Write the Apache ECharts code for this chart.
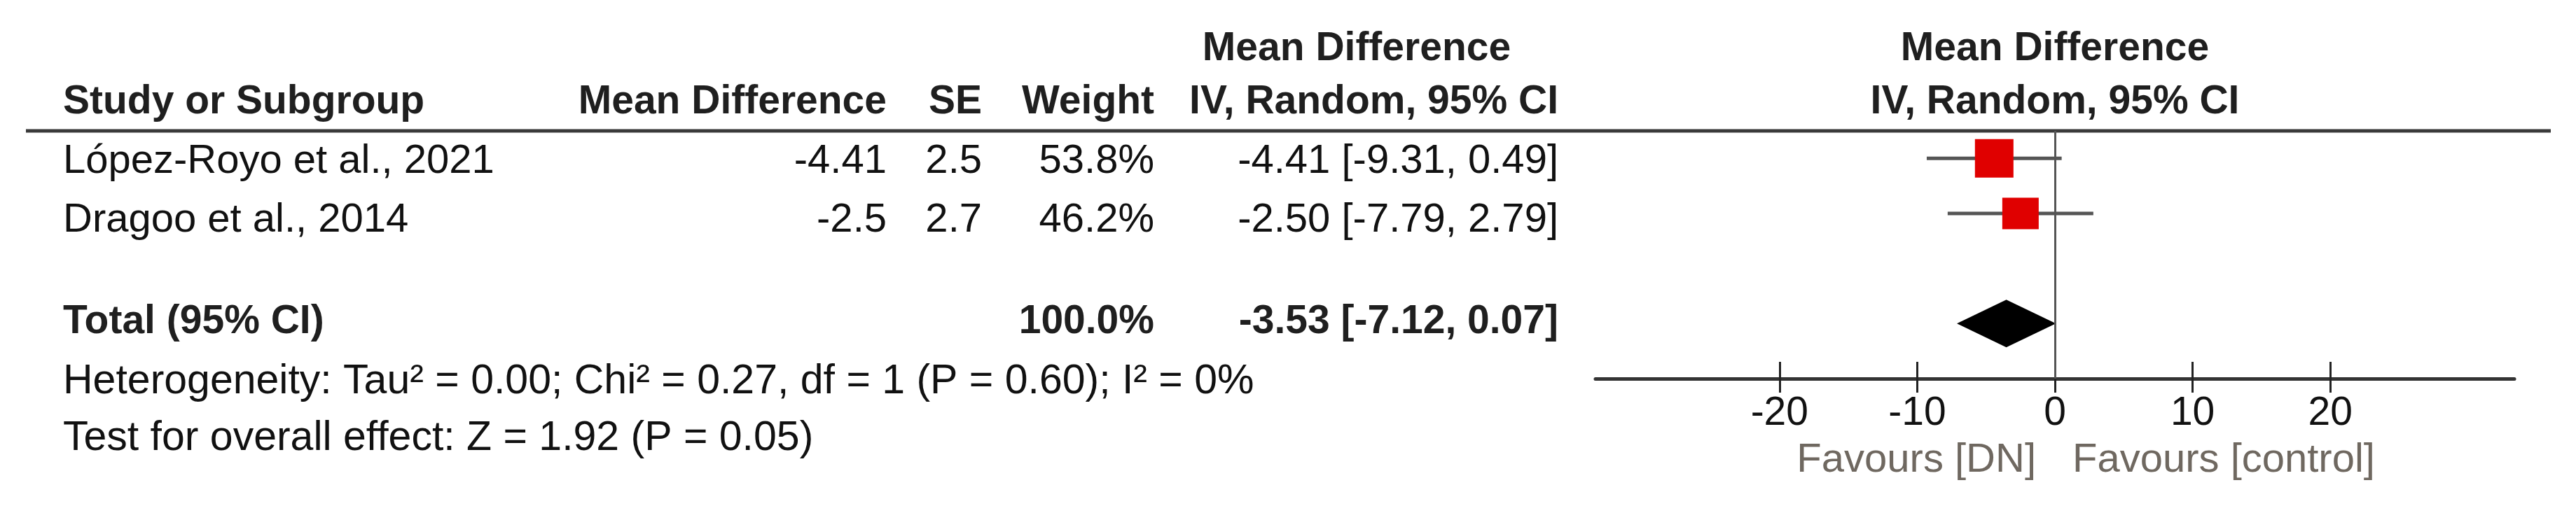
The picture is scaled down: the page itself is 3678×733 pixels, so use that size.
<!DOCTYPE html>
<html>
<head>
<meta charset="utf-8">
<script src="https://cdn.jsdelivr.net/npm/echarts@6/dist/echarts.min.js"></script>
<style>
  html, body { margin: 0; padding: 0; background: #fff; }
  #chart { width: 3678px; height: 733px; }
</style>
</head>
<body>
<div id="chart"></div>
<script>
// study data
const studies = ['López-Royo et al., 2021', 'Dragoo et al., 2014']
const meanDiff = ['-4.41', '-2.5']
const se = ['2.5', '2.7']
const weight = [53.8, 46.2]
const effect = [-4.41, -2.50]
const ciLow = [-9.31, -7.79]
const ciHigh = [0.49, 2.79]
const studyRow = [0, 1]

// pooled result
const totalEffect = [-3.53]
const totalLow = [-7.12]
const totalHigh = [0.07]
const totalWeight = [100.0]
const totalRow = [3]

const xTicks = [-20, -10, 0, 10, 20]
const heterogeneity = 'Heterogeneity: Tau² = 0.00; Chi² = 0.27, df = 1 (P = 0.60); I² = 0%'
const overallTest = 'Test for overall effect: Z = 1.92 (P = 0.05)'

const chart = echarts.init(document.getElementById('chart'))

const FONT = '"Liberation Sans", Arial, sans-serif'
const txt = (text, x, y, align, bold, extra) => ({
  type: 'text',
  x: x,
  y: y,
  silent: true,
  style: Object.assign({
    text: text,
    fill: bold ? '#1f1f1f' : '#111',
    font: (bold ? 'bold 57px ' : '58px ') + FONT,
    textAlign: align,
    textVerticalAlign: 'middle',
  }, extra || {}),
})

const fmtCI = (m, l, h) => m.toFixed(2) + ' [' + l.toFixed(2) + ', ' + h.toFixed(2) + ']'

// table columns (pixel layout)
const colName = 90
const colMD = 1266
const colSE = 1402
const colW = 1648
const colCI = 2225
const colPlot = 2934
const rowTextY = [231, 315]

const graphics = [
  // header
  txt('Mean Difference', 1937, 70, 'center', true),
  txt('Mean Difference', colPlot, 70, 'center', true),
  txt('Study or Subgroup', colName, 146, 'left', true),
  txt('Mean Difference', colMD, 146, 'right', true),
  txt('SE', colSE, 146, 'right', true),
  txt('Weight', colW, 146, 'right', true),
  txt('IV, Random, 95% CI', colCI, 146, 'right', true),
  txt('IV, Random, 95% CI', colPlot, 146, 'center', true),
  {
    type: 'line',
    silent: true,
    shape: {x1: 37, y1: 187, x2: 3642, y2: 187},
    style: {stroke: '#3a3a3a', lineWidth: 5},
  },
  // total
  txt('Total (95% CI)', colName, 460, 'left', true),
  txt(totalWeight[0].toFixed(1) + '%', colW, 460, 'right', true),
  txt(fmtCI(totalEffect[0], totalLow[0], totalHigh[0]), colCI, 460, 'right', true),
  txt(heterogeneity, colName, 546, 'left', false, {font: '59px ' + FONT}),
  txt(overallTest, colName, 627, 'left', false, {font: '59px ' + FONT}),
  // favours
  txt('Favours [DN]', 2907, 658, 'right', false, {fill: '#6f6860', font: '58px ' + FONT}),
  txt('Favours [control]', 2959, 658, 'left', false, {fill: '#6f6860', font: '58px ' + FONT}),
]

studies.forEach((name, i) => {
  const y = rowTextY[i]
  graphics.push(txt(name, colName, y, 'left', false))
  graphics.push(txt(meanDiff[i], colMD, y, 'right', false))
  graphics.push(txt(se[i], colSE, y, 'right', false))
  graphics.push(txt(weight[i].toFixed(1) + '%', colW, y, 'right', false))
  graphics.push(txt(fmtCI(effect[i], ciLow[i], ciHigh[i]), colCI, y, 'right', false))
})

const ciData = studies.map((s, i) => [ciLow[i], ciHigh[i], studyRow[i]])
const pointData = studies.map((s, i) => [effect[i], studyRow[i]])
const diamondData = totalEffect.map((m, i) => [m, totalLow[i], totalHigh[i], totalRow[i]])
const markerSize = [[55, 55], [52, 45]]

const xAxisBase = {
  type: 'value',
  min: -33.37,
  max: 33.37,
  position: 'bottom',
  splitLine: {show: false},
}

const option = {
  animation: false,
  backgroundColor: '#fff',
  grid: {left: 2278, right: 88, top: 187, bottom: 192},
  xAxis: [
    Object.assign({}, xAxisBase, {
      axisLine: {show: true, onZero: false, lineStyle: {color: '#333', width: 5}},
      axisTick: {show: true, inside: true, length: 24, customValues: xTicks, lineStyle: {color: '#222', width: 3}},
      axisLabel: {show: false},
    }),
    Object.assign({}, xAxisBase, {
      axisLine: {show: false, onZero: false},
      axisTick: {show: true, inside: false, length: 20, customValues: xTicks, lineStyle: {color: '#222', width: 3}},
      axisLabel: {
        show: true,
        customValues: xTicks,
        margin: 22,
        color: '#111',
        fontSize: 57,
        fontFamily: FONT,
      },
    }),
  ],
  yAxis: {
    type: 'value',
    inverse: true,
    min: -0.5,
    max: 4,
    show: false,
  },
  series: [
    {
      // confidence intervals
      type: 'custom',
      xAxisIndex: 0,
      data: ciData,
      renderItem: (params, api) => {
        const a = api.coord([api.value(0), api.value(2)])
        const b = api.coord([api.value(1), api.value(2)])
        return {
          type: 'line',
          shape: {x1: a[0], y1: a[1], x2: b[0], y2: b[1]},
          style: {stroke: '#555', lineWidth: 5},
        }
      },
      markLine: {
        silent: true,
        symbol: 'none',
        label: {show: false},
        lineStyle: {color: '#555', width: 3, type: 'solid'},
        data: [{xAxis: 0}],
      },
      z: 2,
    },
    {
      // study estimates
      type: 'scatter',
      xAxisIndex: 0,
      symbol: 'rect',
      symbolSize: (v, p) => markerSize[p.dataIndex],
      itemStyle: {color: '#e00000', opacity: 1},
      data: pointData,
      z: 3,
    },
    {
      // pooled diamond
      type: 'custom',
      xAxisIndex: 0,
      data: diamondData,
      renderItem: (params, api) => {
        const row = api.value(3)
        const c = api.coord([api.value(0), row])
        const l = api.coord([api.value(1), row])
        const r = api.coord([api.value(2), row])
        const h = 34
        return {
          type: 'polygon',
          shape: {points: [[l[0], c[1]], [c[0], c[1] - h], [r[0], c[1]], [c[0], c[1] + h]]},
          style: {fill: '#000'},
        }
      },
      z: 3,
    },
  ],
  graphic: graphics,
}

option && chart.setOption(option)
</script>
</body>
</html>
